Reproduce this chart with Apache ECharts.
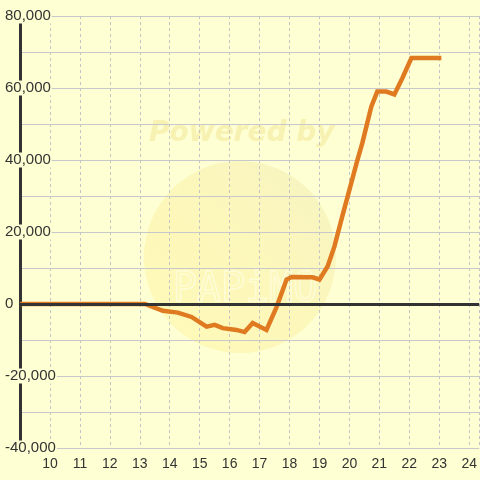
<!DOCTYPE html>
<html><head><meta charset="utf-8">
<script src="https://cdn.jsdelivr.net/npm/echarts@6/dist/echarts.min.js"></script>
<style>html,body{margin:0;padding:0;background:#FEFFD2;}#c{width:480px;height:480px;}</style>
</head><body><div id="c"></div>
<script>
// time in hours
const hours = [9, 10, 11, 12, 13, 13.17, 13.77, 14.27, 14.73, 15.23, 15.5, 15.77, 16.23, 16.5, 16.77, 17.23, 17.57, 17.9, 18.07, 18.77, 19.0, 19.27, 19.5, 19.75, 20.0, 20.25, 20.43, 20.73, 20.93, 21.23, 21.5, 21.77, 22.07, 23.07];
const values = [0, 0, 0, 0, 0, 0, -1900, -2400, -3600, -6300, -5800, -6700, -7200, -7800, -5300, -7200, -800, 6800, 7500, 7400, 6800, 10400, 16000, 24000, 31700, 39500, 44700, 54800, 59000, 59000, 58200, 62800, 68300, 68300];
const xTicks = [10, 11, 12, 13, 14, 15, 16, 17, 18, 19, 20, 21, 22, 23, 24];
const yLabelValues = [-40000, -20000, 0, 20000, 40000, 60000, 80000];

const bg = '#FEFFD2';
const chart = echarts.init(document.getElementById('c'));
const fmt = v => v.toString().replace(/\B(?=(\d{3})+(?!\d))/g, ',');
chart.setOption({
  animation: false,
  backgroundColor: bg,
  textStyle: { fontFamily: 'Liberation Sans' },
  grid: { left: 20, right: 0, top: 16, bottom: 32, containLabel: false },
  graphic: {
    z: -10,
    elements: [
      { type: 'circle', shape: { cx: 240, cy: 257, r: 96 }, silent: true,
        style: { fill: new echarts.graphic.LinearGradient(0, 1, 1, 0, [
          { offset: 0, color: 'rgba(255,246,160,0.5)' },
          { offset: 0.5, color: 'rgba(250,236,150,0.4)' },
          { offset: 1, color: 'rgba(236,226,170,0.4)' }]) } },
      { type: 'text', left: 149, top: 120, silent: true,
        style: { text: 'Powered by', fontSize: 28, fontWeight: 'bold', fontStyle: 'italic', fill: 'rgba(240,225,140,0.45)', fontFamily: 'DejaVu Sans' } },
      { type: 'text', left: 172, top: 270, silent: true,
        style: { text: 'PAPiMO', fontSize: 40, fill: 'none', stroke: 'rgba(255,255,235,0.6)', lineWidth: 1.5, fontFamily: 'DejaVu Sans Mono' } }
    ]
  },
  xAxis: {
    type: 'value', min: 9, max: 24.333, interval: 1,
    axisLine: { show: false },
    axisTick: { show: false },
    axisLabel: { color: '#333', fontSize: 14, margin: 9, showMaxLabel: false,
      formatter: v => xTicks.includes(v) ? String(v) : '' },
    splitLine: { show: true, lineStyle: { color: '#C4C4C4', type: [3, 3], width: 1 } }
  },
  yAxis: {
    type: 'value', min: -40000, max: 80000, interval: 10000,
    axisLine: { show: true, lineStyle: { color: '#333', width: 3 } },
    axisTick: { show: false },
    axisLabel: { color: '#333', fontSize: 15, align: 'left', margin: 15,
      backgroundColor: bg, padding: [0, 1, 0, 0],
      formatter: v => yLabelValues.includes(v) ? fmt(v) : '' },
    splitLine: { show: true, lineStyle: { color: '#C8C8CC', width: 1 } }
  },
  series: [
    { type: 'line', data: [], z: 1, silent: true,
      markLine: { symbol: 'none', silent: true, label: { show: false },
        lineStyle: { color: '#333', width: 3, type: 'solid' },
        data: [{ yAxis: 0 }] } },
    { type: 'line', z: 3, showSymbol: false, symbol: 'none',
      data: hours.map((h, i) => [h, values[i]]),
      lineStyle: { color: '#E07A20', width: 4.5, join: 'miter' } }
  ]
});
</script></body></html>
